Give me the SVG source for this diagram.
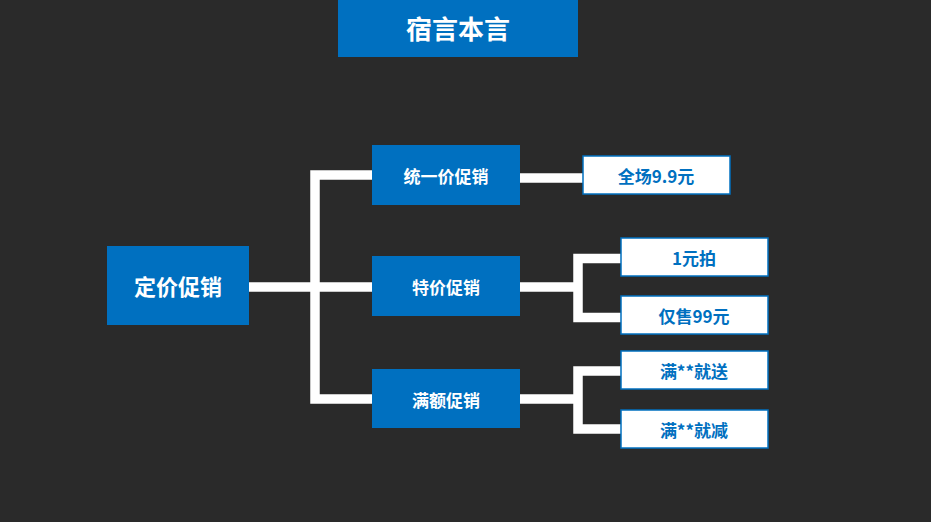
<svg xmlns="http://www.w3.org/2000/svg" width="931" height="522" viewBox="0 0 931 522">
<style>
.b{fill:#0070c0}
.l{fill:#fff;stroke:#0070c0;stroke-width:1.5}
.t{font-family:"Noto Sans CJK SC","Liberation Sans",sans-serif;font-weight:bold;text-anchor:middle;dominant-baseline:central}
.w{fill:#fff}
.k{fill:#0070c0;font-size:17px}
.c{fill:none;stroke:#fff;stroke-width:9.5}
</style>
<rect width="931" height="522" fill="#2a2a2a"/>
<g id="title"><rect class="b" x="338" y="0" width="240" height="57"/><text class="t w" x="458" y="27" font-size="26">宿言本言</text></g>
<g id="connectors">
<path class="c" d="M249 287H372M372 175H315V399H372"/>
<path class="c" d="M520 178H583"/>
<path class="c" d="M520 287H578M621 258.5H578V317.5H621"/>
<path class="c" d="M520 399H578M621 371H578V429H621"/>
</g>
<g id="main"><rect class="b" x="107" y="246" width="142" height="79"/><text class="t w" x="178" y="285" font-size="22">定价促销</text></g>
<g id="n1"><rect class="b" x="372" y="145" width="148" height="60"/><text class="t w" x="446" y="175" font-size="17">统一价促销</text></g>
<g id="n2"><rect class="b" x="372" y="256" width="148" height="60"/><text class="t w" x="446" y="286" font-size="17">特价促销</text></g>
<g id="n3"><rect class="b" x="372" y="369" width="148" height="59"/><text class="t w" x="446" y="399" font-size="17">满额促销</text></g>
<g id="l1"><rect class="l" x="583" y="156" width="147" height="38"/><text class="t k" x="656" y="175">全场9.9元</text></g>
<g id="l2"><rect class="l" x="621" y="238" width="147" height="38"/><text class="t k" x="694" y="257">1元拍</text></g>
<g id="l3"><rect class="l" x="621" y="296" width="147" height="38"/><text class="t k" x="694" y="315">仅售99元</text></g>
<g id="l4"><rect class="l" x="621" y="351" width="147" height="38"/><text class="t k" x="694" y="370">满**就送</text></g>
<g id="l5"><rect class="l" x="621" y="410" width="147" height="38"/><text class="t k" x="694" y="429">满**就减</text></g>
</svg>
